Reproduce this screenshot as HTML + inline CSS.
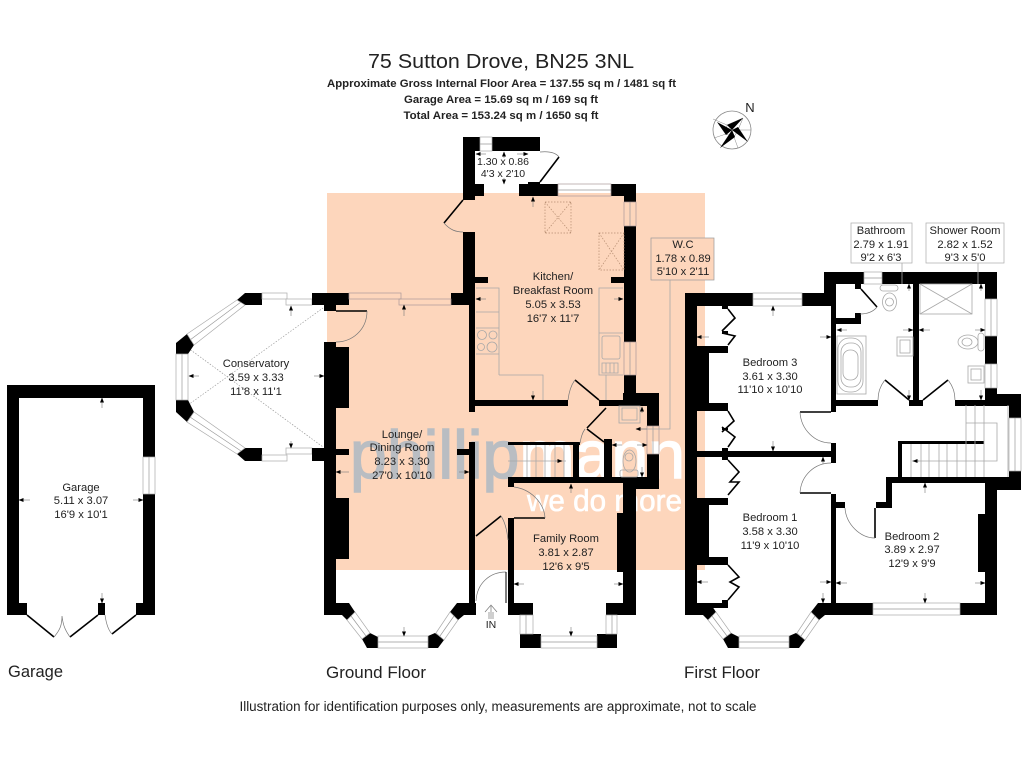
<!DOCTYPE html>
<html><head><meta charset="utf-8"><style>html,body{margin:0;padding:0;background:#fff}svg{display:block}
text{font-family:"Liberation Sans",sans-serif;fill:#222;font-size:11.2px;text-anchor:middle}
.w{fill:#000;stroke:none}.g{fill:#fff;stroke:#aaa;stroke-width:.7}.h{fill:none;stroke:#a99;stroke-width:.7}.l{fill:none;stroke:#999;stroke-width:.7}.d{fill:none;stroke:#000;stroke-width:1.6}.a{fill:none;stroke:#777;stroke-width:.7}.t{fill:none;stroke:#a8a8a8;stroke-width:.8}.q{fill:none;stroke:#999;stroke-width:.7;stroke-dasharray:1.5 1.5}
.m path{stroke:#777;stroke-width:.6;fill:none;marker-end:url(#m)}</style></head><body>
<svg xmlns="http://www.w3.org/2000/svg" width="1024" height="768" viewBox="0 0 1024 768">
<defs><marker id="m" markerUnits="userSpaceOnUse" markerWidth="5" markerHeight="4" refX="4.500" refY="2" orient="auto"><path d="M0 0L5 2L0 4Z" fill="#000" style="stroke:none"/></marker></defs>
<rect width="1024" height="768" fill="#fff"/>
<rect x="327" y="193" width="378" height="377" fill="#fdd6bc"/>
<!-- watermark -->
<text x="350" y="478" textLength="335" lengthAdjust="spacingAndGlyphs" style="font-size:68px;text-anchor:start;fill:#b9bdc2;stroke:#b9bdc2;stroke-width:1.5">phillip<tspan style="fill:#fff;stroke:#fff">mann</tspan></text>
<text x="527" y="511" textLength="155" lengthAdjust="spacingAndGlyphs" style="font-size:31px;text-anchor:start;fill:#fff;stroke:#fff;stroke-width:.6">we do more</text>

<!-- Title -->
<text x="501" y="68" textLength="266" lengthAdjust="spacingAndGlyphs" style="font-size:20px">75 Sutton Drove, BN25 3NL</text>
<text x="501.500" y="87" textLength="349" lengthAdjust="spacingAndGlyphs" style="font-weight:bold;font-size:11px">Approximate Gross Internal Floor Area = 137.55 sq m / 1481 sq ft</text>
<text x="501" y="103" textLength="194" lengthAdjust="spacingAndGlyphs" style="font-weight:bold;font-size:11px">Garage Area = 15.69 sq m / 169 sq ft</text>
<text x="501" y="119" textLength="195" lengthAdjust="spacingAndGlyphs" style="font-weight:bold;font-size:11px">Total Area = 153.24 sq m / 1650 sq ft</text>

<!-- Compass -->
<circle cx="732" cy="130" r="19" fill="#fff" stroke="#888" stroke-width=".8"/>
<polygon points="743,118 738,130 734,137 726,134 727,125" fill="#fff" stroke="#777" stroke-width=".5"/>
<path d="M727 125L713 119M738 130L751 130M734 137L738 148M726 134L714 138" stroke="#888" stroke-width=".5"/>
<polygon points="743,118 732,130 727,125" fill="#000"/>
<polygon points="748,142 732,130 738,127" fill="#000"/>
<polygon points="720,148 732,130 735,137" fill="#000"/>
<polygon points="717,122 732,130 726,135" fill="#000"/>
<text x="750" y="112" style="font-size:13px">N</text>

<!-- Garage -->
<g class="w">
<rect x="7" y="385" width="12" height="230"/><rect x="7" y="385" width="148" height="13"/>
<rect x="143" y="385" width="12" height="72"/><rect x="143" y="494" width="12" height="121"/>
<rect x="7" y="603" width="20" height="12"/><rect x="136" y="603" width="19" height="12"/>
<rect x="98" y="603" width="7" height="12"/>
</g>
<rect x="143" y="457" width="12" height="37" class="g"/><line x1="149" y1="457" x2="149" y2="494" class="l"/>
<polyline class="d" points="27,615 54,637"/><polyline class="d" points="98,615 70,637"/><polyline class="d" points="136,615 112,634"/>
<path class="a" d="M54 637C60 630 62 625 62 616M70 637C65 630 63 625 62 616M112 634C108 630 106 622 105 615"/>
<text x="81" y="491">Garage</text><text x="81" y="504">5.11 x 3.07</text><text x="81" y="518">16'9 x 10'1</text>
<text x="35.500" y="677" textLength="55" lengthAdjust="spacingAndGlyphs" style="font-size:16.500px">Garage</text>

<!-- Conservatory dotted -->
<path class="q" d="M188 348L323 447M188 405L323 308"/>
<g class="w">
<polygon points="245,293 262,293 262,305 245,305 237,300"/>
<polygon points="245,448 262,448 262,461 245,461 237,454"/>
<polygon points="176,343 187,334 194,345 188,354 176,354"/>
<polygon points="176,400 188,400 194,412 187,422 176,412"/>
</g>
<g class="g">
<polygon points="187,334 237,300 245,305 194,345"/>
<polygon points="187,422 194,412 245,448 237,454"/>
<rect x="176" y="354" width="12" height="46"/>
<rect x="262" y="293" width="25" height="6"/><rect x="286" y="299" width="26" height="6"/>
<rect x="262" y="455" width="25" height="6"/><rect x="286" y="448" width="26" height="6"/>
</g>
<path class="l" d="M182 354V400M190 340L241 302M190 417L241 451"/>
<text x="256" y="367">Conservatory</text><text x="256" y="381">3.59 x 3.33</text><text x="256" y="395">11'8 x 11'1</text>

<!-- Ground floor walls -->
<g class="w">
<rect x="312" y="293" width="37" height="12"/><rect x="324" y="305" width="12" height="6"/>
<rect x="324" y="342" width="12" height="273"/>
<rect x="336" y="347" width="13" height="61"/><rect x="336" y="498" width="13" height="61"/>
<rect x="336" y="449" width="13" height="6"/><rect x="312" y="448" width="12" height="13"/>
<rect x="451" y="293" width="19" height="12"/><rect x="457" y="449" width="12" height="6"/>
<rect x="463" y="137" width="17" height="14"/>
<rect x="463" y="137" width="12" height="63"/><rect x="475" y="184" width="9" height="12"/>
<rect x="463" y="232" width="12" height="61"/><rect x="469" y="293" width="6" height="119"/>
<rect x="492" y="137" width="48" height="14"/>
<rect x="519" y="184" width="39" height="12"/><rect x="528" y="182" width="12" height="4"/>
<rect x="611" y="184" width="25" height="12"/>
<rect x="624" y="184" width="12" height="18"/><rect x="624" y="226" width="12" height="116"/><rect x="624" y="375" width="12" height="31"/>
<rect x="475" y="277" width="13" height="6"/><rect x="611" y="277" width="13" height="6"/>
<rect x="475" y="400" width="93" height="6"/><rect x="599" y="400" width="38" height="6"/>
<rect x="623" y="393" width="36" height="13"/><rect x="647" y="393" width="12" height="33"/><rect x="647" y="454" width="12" height="35"/>
<rect x="508" y="442" width="72" height="3"/><rect x="573" y="442" width="6" height="36"/><rect x="604" y="439" width="8" height="39"/>
<rect x="508" y="477" width="151" height="6"/><rect x="623" y="477" width="36" height="12"/>
<rect x="508" y="477" width="6" height="10"/><rect x="508" y="518" width="6" height="91"/>
<rect x="623" y="483" width="13" height="132"/><rect x="617" y="513" width="6" height="59"/>
<rect x="606" y="603" width="30" height="12"/><rect x="508" y="603" width="25" height="12"/>
<rect x="469" y="442" width="6" height="173"/>
<polygon points="520,634 541,634 541,648 520,648"/><polygon points="597,634 617,634 617,648 597,648"/>
<polygon points="324,603 349,603 355,612 347,620 342,615 324,615"/>
<polygon points="370,633 378,637 378,648 367,648 362,639"/>
<polygon points="428,636 435,633 444,640 438,648 428,648"/>
<polygon points="450,612 457,603 476,603 476,615 464,615 458,620"/>
</g>
<g class="g">
<polygon points="347,620 355,612 370,633 362,639"/>
<polygon points="450,612 458,620 444,640 436,633"/>
<rect x="378" y="636" width="50" height="12"/>
</g>
<path class="l" d="M351 616L366 636M454 616L440 636M378 642H428"/>
<!-- Ground windows -->
<g class="g">
<rect x="480" y="137" width="12" height="14"/>
<rect x="520" y="615" width="13" height="19"/><rect x="606" y="615" width="11" height="19"/>
<rect x="541" y="636" width="56" height="12"/>
</g>
<g class="h">
<rect x="349" y="293" width="52" height="6"/><rect x="399" y="299" width="52" height="6"/>
<rect x="558" y="184" width="53" height="12"/>
<rect x="624" y="202" width="12" height="24"/><rect x="624" y="342" width="12" height="33"/>
<rect x="647" y="426" width="12" height="28"/>
</g>
<path class="l" d="M480 144H492M558 190H611M630 202V226M630 342V375M653 426V454M526 615V634M612 615V634M541 642H597"/>
<!-- doors -->
<path class="d" d="M463 200L444 223M336 311H367M559 157L540 182M476 536L501 516M514 518H545M575 380L599 400M606 408L587 428M587 429L604 442"/>
<path class="a" d="M540 152C550 151 556 153 559 157M444 223C450 230 456 232 463 232M367 311C367 330 352 342 336 342M568 400C569 392 571 385 575 380M585 429C582 433 581 438 580 443M514 487C530 489 544 502 545 518M501 516C505 522 507 530 508 540M476 601C477 583 490 572 506 572"/>
<line x1="506" y1="572" x2="506" y2="603" stroke="#000" stroke-width="1"/>
<!-- IN arrow -->
<path class="a" d="M491 619V606M485 612L491 605L497 612M489 619V612M493 619V612"/>
<text x="491" y="628" style="font-size:10.500px">IN</text>

<!-- Kitchen fixtures -->
<path class="t" d="M476 288H499V375M476 312H499M476 328H499M476 354H499M499 375H543V400M623 288H599V375H623M599 333H623M606 375V400"/>
<g class="t"><circle cx="482" cy="335" r="4.500"/><circle cx="493" cy="335" r="4"/><circle cx="481" cy="347" r="3.500"/><circle cx="492" cy="347" r="5"/></g>
<rect x="602" y="336" width="18" height="23" rx="2" class="t"/><path class="t" d="M602 363H618V373H602ZM606 363V373M610 363V373M614 363V373"/>
<path class="q" style="stroke:#b58c70" d="M545 202H571V233H545ZM545 202L571 233M571 202L545 233M599 233H624V270H599ZM599 233L624 270M624 233L599 270"/>
<!-- WC box -->
<rect x="651" y="238" width="63" height="42" fill="#fdd6bc" stroke="#999" stroke-width=".7"/>
<path class="t" d="M670 280V429H640"/>
<!-- WC fixtures -->
<rect x="619" y="406" width="21" height="17" class="t"/><rect x="622" y="408" width="15" height="12" class="t"/>
<ellipse cx="629.500" cy="461" rx="6.500" ry="11" class="t"/><circle cx="629" cy="457" r="4" class="t"/><rect x="620" y="470" width="18" height="7" rx="2" class="t"/>
<!-- Stairs -->
<path class="t" d="M527 445V477M536 445V477M545 445V477M555 445V477M564 445V477M508 461H566"/>
<!-- Labels ground -->
<text x="553" y="280">Kitchen/</text><text x="553" y="294">Breakfast Room</text><text x="553" y="308">5.05 x 3.53</text><text x="553" y="322">16'7 x 11'7</text>
<text x="402" y="438">Lounge/</text><text x="402" y="451">Dining Room</text><text x="402" y="465">8.23 x 3.30</text><text x="402" y="479">27'0 x 10'10</text>
<text x="566" y="542">Family Room</text><text x="566" y="556">3.81 x 2.87</text><text x="566" y="570">12'6 x 9'5</text>
<text x="503" y="165" style="font-size:10.500px">1.30 x 0.86</text><text x="503" y="177" style="font-size:10.500px">4'3 x 2'10</text>
<text x="683" y="248">W.C</text><text x="683" y="262">1.78 x 0.89</text><text x="683" y="275">5'10 x 2'11</text>
<text x="376" y="678" textLength="100" lengthAdjust="spacingAndGlyphs" style="font-size:16.500px">Ground Floor</text>

<!-- First floor walls -->
<g class="w">
<rect x="685" y="293" width="12" height="322"/><rect x="685" y="293" width="68" height="13"/>
<rect x="802" y="293" width="34" height="13"/><rect x="824" y="272" width="12" height="34"/><rect x="824" y="272" width="40" height="12"/>
<rect x="882" y="272" width="115" height="12"/><rect x="985" y="272" width="12" height="27"/><rect x="985" y="336" width="12" height="28"/>
<rect x="985" y="388" width="12" height="18"/><rect x="955" y="400" width="66" height="6"/><rect x="985" y="394" width="36" height="12"/>
<rect x="1009" y="394" width="12" height="24"/><rect x="1009" y="471" width="12" height="19"/><rect x="985" y="477" width="36" height="13"/>
<rect x="985" y="477" width="12" height="138"/><rect x="978" y="514" width="7" height="58"/>
<rect x="833" y="603" width="40" height="12"/><rect x="960" y="603" width="37" height="12"/>
<rect x="887" y="477" width="134" height="6"/><rect x="886" y="477" width="6" height="31"/><rect x="876" y="502" width="16" height="6"/>
<rect x="836" y="502" width="9" height="6"/><rect x="831" y="494" width="5" height="121"/><rect x="831" y="443" width="5" height="20"/>
<rect x="697" y="451" width="139" height="6"/><rect x="831" y="284" width="5" height="128"/><rect x="836" y="400" width="42" height="6"/>
<rect x="913" y="284" width="6" height="116"/><rect x="909" y="400" width="14" height="6"/>
<rect x="855" y="284" width="6" height="5"/><rect x="855" y="313" width="6" height="11"/><rect x="836" y="318" width="25" height="6"/>
<rect x="722" y="306" width="6" height="3"/><rect x="722" y="331" width="6" height="3"/><rect x="697" y="346" width="31" height="7"/><rect x="697" y="353" width="12" height="50"/><rect x="697" y="403" width="31" height="8"/>
<rect x="722" y="448" width="6" height="12"/><rect x="722" y="428" width="6" height="2"/>
<rect x="697" y="498" width="31" height="7"/><rect x="697" y="505" width="12" height="52"/><rect x="697" y="557" width="31" height="8"/>
<rect x="722" y="600" width="6" height="8"/><rect x="697" y="603" width="31" height="5"/><rect x="685" y="608" width="18" height="7"/>
<rect x="898" y="441" width="86" height="3"/><rect x="898" y="441" width="4" height="37"/>
<polygon points="685,603 710,603 716,612 708,620 703,615 685,615"/>
<polygon points="731,633 739,637 739,648 728,648 723,639"/>
<polygon points="789,636 796,633 805,640 799,648 789,648"/>
<polygon points="811,612 818,603 837,603 837,615 825,615 819,620"/>
</g>
<g class="g">
<polygon points="708,620 716,612 731,633 723,639"/>
<polygon points="811,612 819,620 805,640 797,633"/>
<rect x="739" y="636" width="50" height="12"/>
<rect x="753" y="293" width="49" height="13"/><rect x="864" y="272" width="18" height="12"/>
<rect x="985" y="299" width="12" height="37"/><rect x="985" y="364" width="12" height="24"/>
<rect x="1009" y="418" width="12" height="53"/><rect x="873" y="603" width="87" height="12"/>
</g>
<path class="l" d="M712 616L727 636M815 616L801 636M739 642H789M753 299H802M864 278H882M991 299V336M991 364V388M1015 418V471M873 609H960"/>
<!-- First floor doors -->
<path class="d" d="M728 309L735 318L722 331M728 345L735 336L722 333M728 411L734 421L722 432M728 447L735 437L722 427M728 460L739 472L730 482L739 482L728 495M728 565L739 577L730 582L739 587L728 600M800 412H831M800 493H831M875 508V538M861 289L877 307M923 400L948 380M909 400L885 380"/>
<path class="a" d="M800 412C801 430 815 443 831 443M800 493C801 475 815 463 831 463M845 508C846 524 860 538 875 538M877 307C873 312 867 314 860 314M948 380C953 386 955 393 955 400M885 380C880 386 878 393 878 400"/>
<!-- Stairs first floor -->
<path class="t" d="M911 444V477M921 444V477M929 444V477M939 444V477M947 444V477M957 444V477M966 405V477M975 405V477M984 405V477M1008 405V477M966 423H997V461H912"/>
<!-- Bathroom fixtures -->
<rect x="837" y="336" width="29" height="58" class="t"/>
<rect x="838" y="338" width="25" height="54" rx="11" class="t"/>
<rect x="841" y="343" width="20" height="44" rx="9" class="t"/>
<rect x="843" y="350" width="15" height="30" rx="7" class="t"/>
<rect x="897" y="337" width="16" height="19" class="t"/><rect x="900" y="340" width="10" height="13" class="t"/>
<rect x="880" y="285" width="18" height="6" rx="3" class="t"/><ellipse cx="889.500" cy="302" rx="7" ry="9" class="t"/><circle cx="889.500" cy="302" r="4" class="t"/>
<rect x="920" y="284" width="52" height="30" class="t" stroke-width="1.200"/><path class="t" d="M920 284L972 314M972 284L920 314"/>
<rect x="978" y="333" width="6" height="18" rx="3" class="t"/><ellipse cx="968" cy="342" rx="10" ry="7" class="t"/><ellipse cx="967" cy="342" rx="5" ry="4" class="t"/>
<rect x="968" y="366" width="16" height="17" class="t"/><rect x="971" y="369" width="10" height="11" class="t"/>
<!-- Top labels boxes -->
<rect x="851" y="223" width="61" height="40" fill="#fff" stroke="#aaa" stroke-width=".7"/>
<rect x="926" y="223" width="78" height="40" fill="#fff" stroke="#aaa" stroke-width=".7"/>
<path class="t" d="M902 263V284M978 263V284"/>
<text x="881" y="234">Bathroom</text><text x="881" y="248">2.79 x 1.91</text><text x="881" y="261">9'2 x 6'3</text>
<text x="965" y="234">Shower Room</text><text x="965" y="248">2.82 x 1.52</text><text x="965" y="261">9'3 x 5'0</text>
<text x="770" y="366">Bedroom 3</text><text x="770" y="380">3.61 x 3.30</text><text x="770" y="393">11'10 x 10'10</text>
<text x="770" y="521">Bedroom 1</text><text x="770" y="535">3.58 x 3.30</text><text x="770" y="549">11'9 x 10'10</text>
<text x="912" y="540">Bedroom 2</text><text x="912" y="553">3.89 x 2.97</text><text x="912" y="567">12'9 x 9'9</text>
<text x="722" y="678" textLength="76" lengthAdjust="spacingAndGlyphs" style="font-size:16.500px">First Floor</text>

<!-- Dimension arrows -->
<g class="m">
<path d="M102 408V398"/><path d="M102 593V603"/><path d="M30 500H19"/><path d="M133 500H143"/>
<path d="M291 316V306"/><path d="M291 441V448"/><path d="M199 376H189"/><path d="M314 376H324"/>
<path d="M349 472H336"/><path d="M459 472H469"/><path d="M404 316V305"/><path d="M404 627V636"/>
<path d="M486 299H476"/><path d="M614 299H623"/><path d="M533 207V197"/><path d="M533 391V400"/>
<path d="M504 158V152"/><path d="M504 178V184"/><path d="M486 154H476"/><path d="M517 154H528"/>
<path d="M524 584H514"/><path d="M614 584H623"/><path d="M571 493V484"/><path d="M571 627V636"/>
<path d="M555 461H562"/><path d="M622 445H612"/><path d="M637 445H647"/><path d="M642 413V407"/><path d="M642 467V477"/><path d="M647 429H636"/>
<path d="M773 316V306"/><path d="M773 441V451"/><path d="M709 337H697"/><path d="M820 337H831"/>
<path d="M847 330H837"/><path d="M903 330H913"/><path d="M909 291V284"/><path d="M909 390V400"/>
<path d="M930 330H919"/><path d="M975 330H985"/><path d="M981 291V284"/><path d="M981 390V400"/>
<path d="M823 464V457"/><path d="M823 593V603"/><path d="M708 582H697"/><path d="M820 582H831"/>
<path d="M847 583H836"/><path d="M975 583H985"/><path d="M925 493V483"/><path d="M925 593V603"/>
<path d="M919 461H913"/>
</g>

<text x="498" y="711" textLength="517" lengthAdjust="spacingAndGlyphs" style="font-size:13.500px">Illustration for identification purposes only, measurements are approximate, not to scale</text>
</svg>
</body></html>
